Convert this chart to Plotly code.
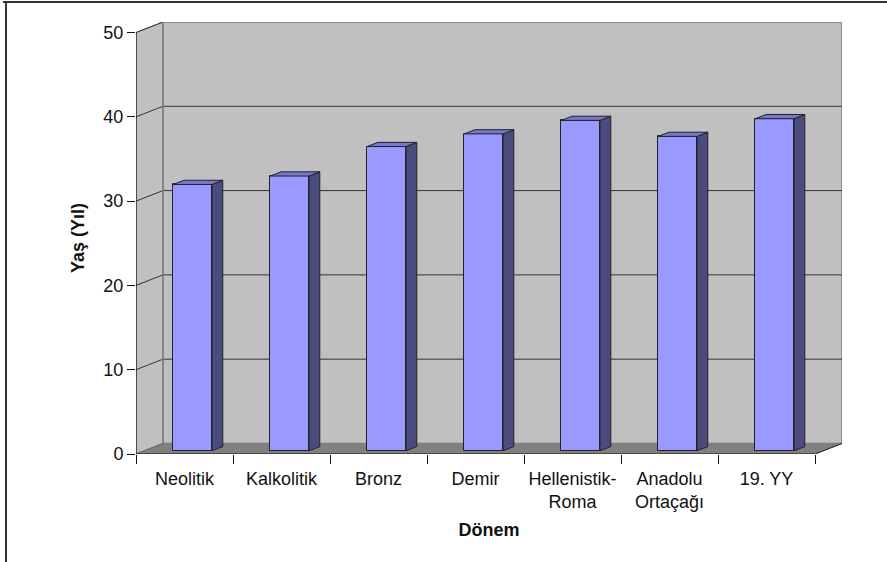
import plotly.graph_objects as go

categories = ["Neolitik", "Kalkolitik", "Bronz", "Demir", "Hellenistik-<br>Roma", "Anadolu<br>Ortaçağı", "19. YY"]
values = [31.6, 32.6, 36.1, 37.6, 39.2, 37.3, 39.4]
y_ticks = [0, 10, 20, 30, 40, 50]

# pseudo-3D depth in data units
DX = 0.278
DY = 1.25
BAR_W = 0.40
D0, D1 = 0.3, 0.7  # bar depth span (fraction of depth)

n = len(categories)
ymax = y_ticks[-1]

FRONT = "#9999FF"
SIDE = "#4B4B7F"
TOP = "#7676D0"
WALL = "#C0C0C0"
FLOOR = "#808080"
EDGE = "#808080"
GRID = "#333333"

fig = go.Figure()

# front faces
centers = [i + 0.5 for i in range(n)]
fig.add_trace(go.Bar(
    x=[c + D0 * DX for c in centers], y=values, base=D0 * DY, width=BAR_W,
    marker=dict(color=FRONT, line=dict(color="#222222", width=1)),
    hoverinfo="skip", showlegend=False))

dd = (D1 - D0)
for c, v in zip(centers, values):
    xl = c + D0 * DX - BAR_W / 2
    xr = c + D0 * DX + BAR_W / 2
    b = D0 * DY
    t = v + D0 * DY
    # side
    fig.add_trace(go.Scatter(
        x=[xr, xr + dd * DX, xr + dd * DX, xr, xr],
        y=[b, b + dd * DY, t + dd * DY, t, b],
        fill="toself", fillcolor=SIDE, mode="lines",
        line=dict(color="#222222", width=1), hoverinfo="skip", showlegend=False))
    # top
    fig.add_trace(go.Scatter(
        x=[xl, xr, xr + dd * DX, xl + dd * DX, xl],
        y=[t, t, t + dd * DY, t + dd * DY, t],
        fill="toself", fillcolor=TOP, mode="lines",
        line=dict(color="#222222", width=1), hoverinfo="skip", showlegend=False))

shapes = []
# back wall
shapes.append(dict(type="rect", xref="x", yref="y", x0=DX, x1=n + DX, y0=DY, y1=ymax + DY,
                   fillcolor=WALL, line=dict(color=EDGE, width=1.5), layer="below"))
# side wall
shapes.append(dict(type="path", xref="x", yref="y",
                   path=f"M0,0 L{DX},{DY} L{DX},{ymax + DY} L0,{ymax} Z",
                   fillcolor=WALL, line=dict(color=EDGE, width=1), layer="below"))
# floor
shapes.append(dict(type="path", xref="x", yref="y",
                   path=f"M0,0 L{n},0 L{n + DX},{DY} L{DX},{DY} Z",
                   fillcolor=FLOOR, line=dict(color=FLOOR, width=1), layer="below"))
# gridlines
for v in y_ticks[1:-1]:
    shapes.append(dict(type="line", xref="x", yref="y", x0=DX, x1=n + DX, y0=v + DY, y1=v + DY,
                       line=dict(color=GRID, width=1), layer="below"))
for v in y_ticks[1:]:
    shapes.append(dict(type="line", xref="x", yref="y", x0=0, x1=DX, y0=v, y1=v + DY,
                       line=dict(color=GRID, width=1), layer="below"))
# back-left vertical edge
shapes.append(dict(type="line", xref="x", yref="y", x0=DX, x1=DX, y0=DY, y1=ymax + DY,
                   line=dict(color=EDGE, width=1.5), layer="below"))
# floor right diagonal
shapes.append(dict(type="line", xref="x", yref="y", x0=n, x1=n + DX, y0=0, y1=DY,
                   line=dict(color="#222222", width=1)))
# floor left diagonal
shapes.append(dict(type="line", xref="x", yref="y", x0=0, x1=DX, y0=0, y1=DY,
                   line=dict(color="#666666", width=1)))
# front axes
shapes.append(dict(type="line", xref="x", yref="y", x0=0, x1=n, y0=0, y1=0,
                   line=dict(color="#111111", width=1.2)))
shapes.append(dict(type="line", xref="x", yref="y", x0=0, x1=0, y0=0, y1=ymax,
                   line=dict(color="#111111", width=1.2)))
# outer frame (top and left)
shapes.append(dict(type="line", xref="paper", yref="paper",
                   x0=(3 - 136) / 706, x1=(890 - 136) / 706, y0=(454 - 2) / 432, y1=(454 - 2) / 432,
                   line=dict(color="#333333", width=2)))
shapes.append(dict(type="line", xref="paper", yref="paper",
                   x0=(6 - 136) / 706, x1=(6 - 136) / 706, y0=(454 - 2) / 432, y1=(454 - 565) / 432,
                   line=dict(color="#333333", width=2)))

FONT = "Liberation Sans, Arial, sans-serif"

fig.update_layout(
    width=887, height=562,
    margin=dict(l=136, r=45, t=22, b=108),
    paper_bgcolor="white", plot_bgcolor="white",
    shapes=shapes,
    font=dict(family=FONT, size=18, color="#111111"),
    xaxis=dict(
        range=[0, n + DX], tickmode="array", tickvals=centers, ticktext=categories,
        ticks="outside", ticklen=8, tickcolor="rgba(0,0,0,0)",
        minor=dict(tickmode="array", tickvals=list(range(n + 1)), ticks="outside",
                   ticklen=9, tickcolor="#111111", showgrid=False),
        showgrid=False, zeroline=False, showline=False,
        tickfont=dict(size=18),
        title=dict(text="<b>Dönem</b>", font=dict(size=18), standoff=12),
    ),
    yaxis=dict(
        range=[0, ymax + DY], tickmode="array", tickvals=y_ticks,
        ticks="outside", ticklen=8, tickcolor="#111111",
        showgrid=False, zeroline=False, showline=False,
        tickfont=dict(size=18),
        title=dict(text="<b>Yaş (Yıl)</b>", font=dict(size=18), standoff=14),
    ),
    bargap=0,
)

fig.write_html("out.html")
